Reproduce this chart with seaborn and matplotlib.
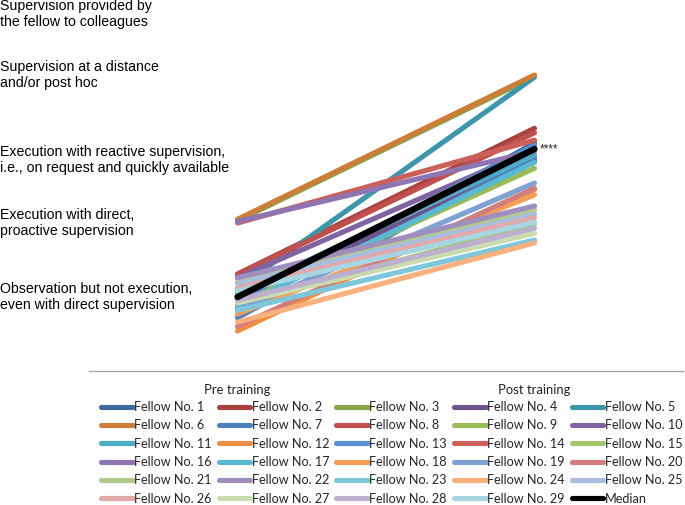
import matplotlib
matplotlib.use("Agg")
import matplotlib.pyplot as plt
import matplotlib.transforms as mtransforms
from matplotlib.lines import Line2D
import seaborn as sns
import pandas as pd

# ---- data ----
time_labels = ["Pre training", "Post training"]
level_labels = [
    "Observation but not execution,\neven with direct supervision",
    "Execution with direct,\nproactive supervision",
    "Execution with reactive supervision,\ni.e., on request and quickly available",
    "Supervision at a distance\nand/or post hoc",
    "Supervision provided by\nthe fellow to colleagues",
]
level_values = [1, 2, 3, 4, 5]

fellows = [f"Fellow No. {i}" for i in range(1, 30)]
pre_scores = [0.86, 1.31, 2.03, 0.96, 1.12, 2.05, 0.72, 1.30, 0.92, 1.26,
              1.05, 0.54, 0.95, 2.00, 0.90, 2.02, 0.86, 0.77, 0.82, 0.60,
              1.20, 1.26, 0.82, 0.66, 1.18, 1.12, 0.92, 0.96, 1.08]
post_scores = [3.08, 3.28, 3.98, 2.85, 3.97, 4.00, 2.89, 3.22, 2.74, 3.00,
               2.92, 2.45, 3.05, 3.12, 1.99, 2.97, 2.82, 2.38, 2.54, 2.47,
               2.18, 2.23, 1.77, 1.73, 2.12, 2.07, 1.86, 1.93, 2.01]
median_pre = 1.0
median_post = 3.0
significance = "****"

colors = ["#3E6A9E", "#A8423F", "#86A44A", "#6E548D", "#3D96AB", "#CC7E38",
          "#4F81BD", "#C0504D", "#9BBB59", "#8064A2", "#4BACC6", "#F08F42",
          "#5B8FD3", "#CD5F5B", "#A7C66A", "#8E74B3", "#57B9D2", "#F59D55",
          "#7EA1D2", "#D27D7A", "#B2CB8A", "#A08EBE", "#7FC6D9", "#F8B07F",
          "#A9BEDF", "#E2A9A8", "#CADBB0", "#BCB0D1", "#A8D5E2"]

rows = []
for name, a, b in zip(fellows, pre_scores, post_scores):
    rows.append({"fellow": name, "time": 0, "score": a})
    rows.append({"fellow": name, "time": 1, "score": b})
df = pd.DataFrame(rows)
df_med = pd.DataFrame({"time": [0, 1], "score": [median_pre, median_post]})

# ---- figure ----
sns.set_style("white")
plt.rcParams["font.family"] = ["Lato", "DejaVu Sans"]

fig = plt.figure(figsize=(6.85, 5.05), dpi=100)
ax = fig.add_axes([89 / 685, (505 - 371) / 505, (683 - 89) / 685, 370 / 505])

palette = dict(zip(fellows, colors))
sns.lineplot(data=df, x="time", y="score", hue="fellow", hue_order=fellows,
             palette=palette, linewidth=3.7, legend=False, ax=ax,
             solid_capstyle="round", sort=False)
sns.lineplot(data=df_med, x="time", y="score", color="black", linewidth=4.6,
             ax=ax, solid_capstyle="round", sort=False)

ax.set_xlim(-0.5, 1.5)
ax.set_ylim(0, 5)
ax.set_xlabel("")
ax.set_ylabel("")
ax.set_yticks([])
ax.set_xticks([0, 1])
ax.set_xticklabels(time_labels, fontsize=9.4, color="#222222")
ax.set_xticks([-0.5, 0.5, 1.5], minor=True)
ax.tick_params(axis="x", which="major", length=0, pad=9)
ax.tick_params(axis="x", which="minor", length=4, width=1, color="#A6A6A6",
               direction="out")
for s in ["top", "right", "left"]:
    ax.spines[s].set_visible(False)
ax.spines["bottom"].set_color("#A6A6A6")
ax.spines["bottom"].set_linewidth(1)

# level labels on the left
blend = mtransforms.blended_transform_factory(fig.transFigure, ax.transData)
label_shift_px = [0, 0, -11, 0, -13]
for lv, txt, dy in zip(level_values, level_labels, label_shift_px):
    tr = mtransforms.offset_copy(blend, fig=fig, x=0, y=dy, units="dots")
    ax.text(0.0, lv, txt, transform=tr, ha="left", va="center",
            fontsize=10.2, family=["Liberation Sans", "DejaVu Sans"],
            linespacing=1.15, color="black")

ax.annotate(significance, xy=(1, median_post), xytext=(4, 0),
            textcoords="offset points", ha="left", va="center", fontsize=8.5,
            family=["Liberation Sans", "DejaVu Sans"])

# legend (row-major ordering)
handles = [Line2D([0], [0], color=c, lw=3.7, solid_capstyle="round") for c in colors]
handles.append(Line2D([0], [0], color="black", lw=3.7, solid_capstyle="round"))
labels = fellows + ["Median"]
ncol, nrow = 5, 6
order = [r * ncol + c for c in range(ncol) for r in range(nrow)]
leg = fig.legend([handles[i] for i in order], [labels[i] for i in order],
                 ncol=ncol, loc="upper left", bbox_to_anchor=(101 / 685, 1 - 401 / 505),
                 frameon=False, fontsize=9.1, handlelength=2.5, handletextpad=0.12,
                 columnspacing=0.55, labelspacing=0.5, borderpad=0, borderaxespad=0)

fig.savefig("out.png", dpi=100)
